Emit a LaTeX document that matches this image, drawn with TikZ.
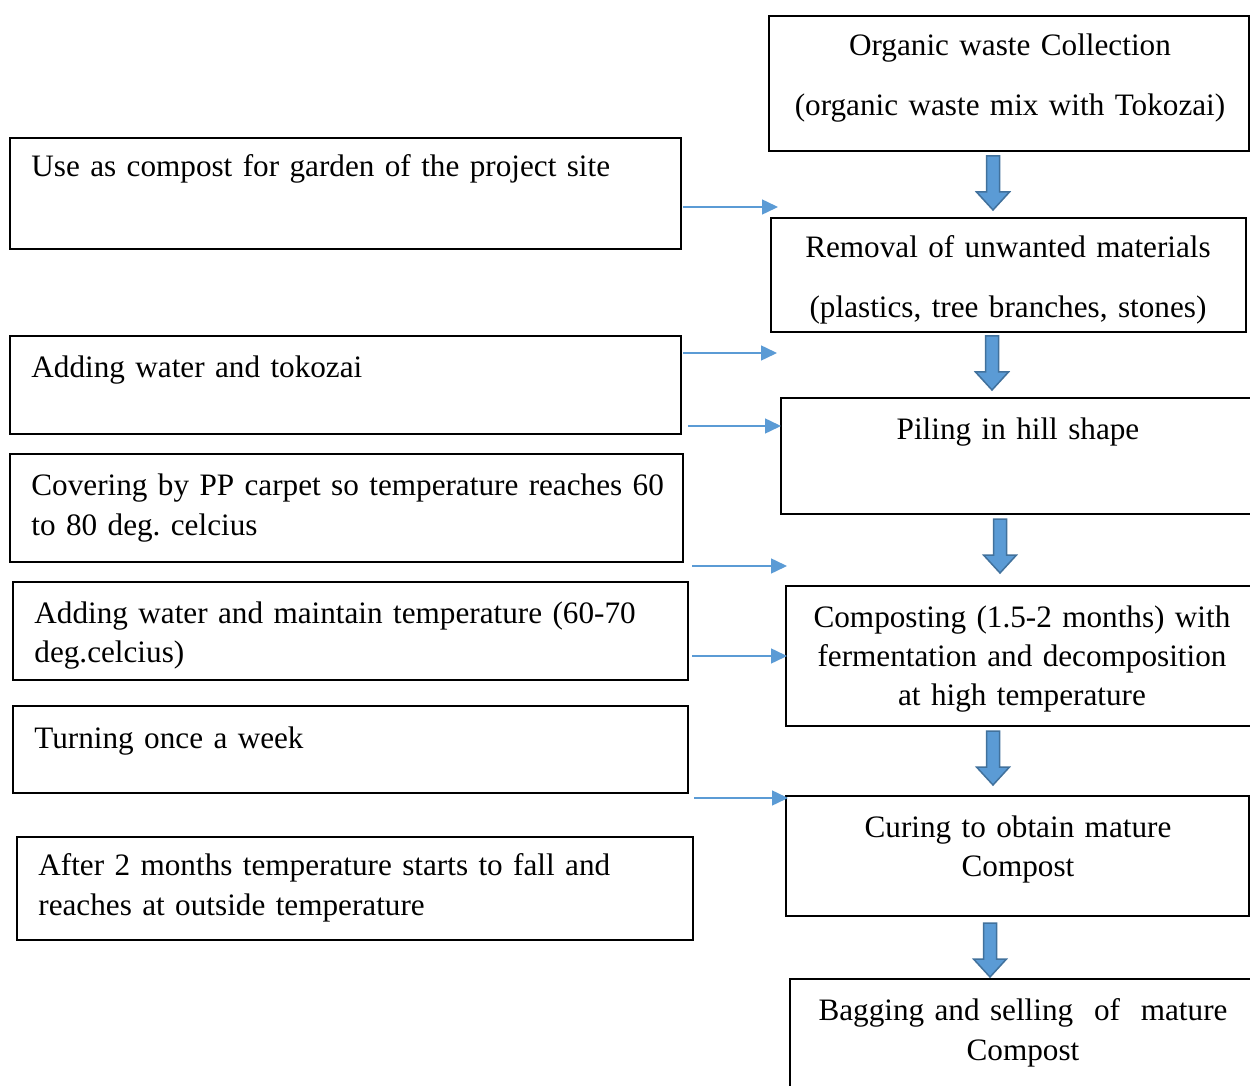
\documentclass[tikz,border=0pt]{standalone}
\usepackage{fontspec}
\setmainfont{Liberation Serif}
\usetikzlibrary{arrows.meta,fit}
\definecolor{accent}{RGB}{91,155,213}
\definecolor{accentdark}{RGB}{65,113,156}
\frenchspacing
\begin{document}
\begin{tikzpicture}[x=0.5pt,y=-0.5pt,
  box/.style={draw=black,line width=1pt,inner sep=0pt,fit={#1}},
  txt/.style={inner sep=0pt,font=\fontsize{15.6}{20}\selectfont},
  lt/.style={txt,anchor=base west,align=left,text width=340pt},
  rt/.style={txt,anchor=base,align=center,text width=240pt},
  thin/.style={draw=accent,line width=0.75pt,-{Triangle[length=8pt,width=7.5pt]}},
  downarrow/.pic={\draw[fill=accent,draw=accentdark,line width=0.75pt,line join=miter]
    (-6.5,0) -- (6.5,0) -- (6.5,36) -- (16.5,36) -- (0,54) -- (-16.5,36) -- (-6.5,36) -- cycle;}]
\useasboundingbox (0,0) rectangle (1250,1086);
\fill[white] (0,0) rectangle (1250,1086);

% right column boxes
\node[box={(769,16) (1249,151)}] (org) {};
\node[box={(771,218) (1246,332)}] (rem) {};
\node[box={(781,398) (1254,514)}] (pil) {};
\node[box={(786,586) (1254,726)}] (cmp) {};
\node[box={(786,796) (1249,916)}] (cur) {};
\node[box={(790,979) (1254,1100)}] (bag) {};

\node[rt] (orgt) at (1010,56) {Organic waste Collection\\[10pt](organic waste mix with Tokozai)};
\node[rt] (remt) at (1008,258) {Removal of unwanted materials\\[10pt](plastics, tree branches, stones)};
\node[rt] (pilt) at (1018,439) {Piling in hill shape};
\node[rt] (cmpt) at (1022,627) {Composting (1.5-2 months) with\\[-0.5pt]fermentation and decomposition\\[-0.5pt]at high temperature};
\node[rt] (curt) at (1018,837) {Curing to obtain mature\\[-0.5pt]Compost};
\node[rt] (bagt) at (1023,1020) {Bagging and selling\ \ of\ \ mature\\Compost};

% left column boxes
\node[box={(10,138) (681,249)}] (use) {};
\node[box={(10,336) (681,434)}] (add) {};
\node[box={(10,454) (683,562)}] (cov) {};
\node[box={(13,582) (688,680)}] (adm) {};
\node[box={(13,706) (688,793)}] (trn) {};
\node[box={(17,837) (693,940)}] (aft) {};

\node[lt] (uset) at (31,177) {Use as compost for garden of the project site};
\node[lt] (addt) at (31,378) {Adding water and tokozai};
\node[lt] (covt) at (31,495) {Covering by PP carpet so temperature reaches 60\\to 80 deg. celcius};
\node[lt] (admt) at (34,623) {Adding water and maintain temperature (60-70\\deg.celcius)};
\node[lt] (trnt) at (34,748) {Turning once a week};
\node[lt] (aftt) at (38,875) {After 2 months temperature starts to fall and\\reaches at outside temperature};

% thin arrows
\coordinate (a1s) at (683,207); \coordinate (a1e) at (778,207);
\coordinate (a2s) at (683,353); \coordinate (a2e) at (777,353);
\coordinate (a3s) at (688,426); \coordinate (a3e) at (781,426);
\coordinate (a4s) at (692,566); \coordinate (a4e) at (787,566);
\coordinate (a5s) at (692,656); \coordinate (a5e) at (787,656);
\coordinate (a6s) at (694,798); \coordinate (a6e) at (788,798);
\draw[thin] (a1s) -- (a1e);
\draw[thin] (a2s) -- (a2e);
\draw[thin] (a3s) -- (a3e);
\draw[thin] (a4s) -- (a4e);
\draw[thin] (a5s) -- (a5e);
\draw[thin] (a6s) -- (a6e);

% block arrows
\pic (b1) at (993,156) {downarrow};
\pic (b2) at (992,336) {downarrow};
\pic (b3) at (1000,519) {downarrow};
\pic (b4) at (993,731) {downarrow};
\pic (b5) at (990,923) {downarrow};
\end{tikzpicture}
\end{document}
